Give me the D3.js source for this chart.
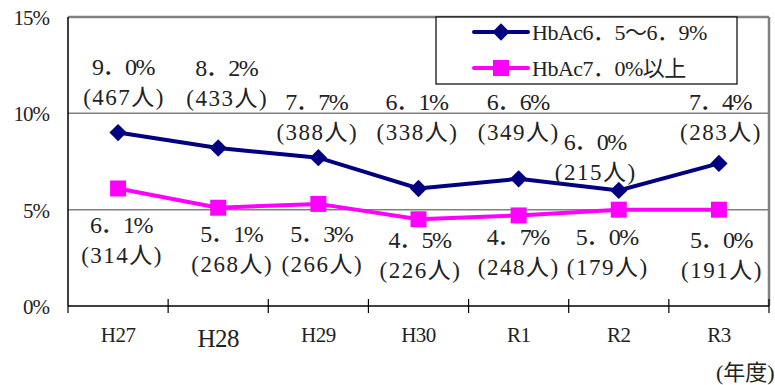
<!DOCTYPE html>
<html>
<head>
<meta charset="utf-8">
<script src="https://cdn.jsdelivr.net/npm/d3@7"></script>
<style>
  body { margin: 0; background: #fff; }
</style>
</head>
<body>
<svg id="chart" width="775" height="385"></svg>
<script>
// data
const years = ["H27", "H28", "H29", "H30", "R1", "R2", "R3"];
const rateMid = [9.0, 8.2, 7.7, 6.1, 6.6, 6.0, 7.4];      // HbAc6.5～6.9%
const countMid = [467, 433, 388, 338, 349, 215, 283];
const rateHigh = [6.1, 5.1, 5.3, 4.5, 4.7, 5.0, 5.0];     // HbAc7.0%以上
const countHigh = [314, 268, 266, 226, 248, 179, 191];
const yTicks = [0, 5, 10, 15];

// where the data labels sit (in % units) and their sideways nudge, hand placed like the original
const midLabelAt = [12.4, 12.35, 10.6, 10.6, 10.6, 8.5, 10.6];
const highLabelAt = [4.2, 3.75, 3.75, 3.45, 3.6, 3.6, 3.4];
const midDx = [5, 8, -2, -2, -1, -24, 1];
const highDx = [3, 13, 3, 1, -1, -12, 2];

const FONT = "'Liberation Serif', 'DejaVu Serif', 'Noto Sans CJK JP', serif";

const svg = d3.select("#chart")
  .attr("font-family", FONT)
  .style("font-family", FONT);
const margin = { top: 17, right: 6, bottom: 79, left: 68 };
const width = 775 - margin.left - margin.right;
const height = 385 - margin.top - margin.bottom;

const x = d3.scaleBand().domain(years).range([0, width]);
const y = d3.scaleLinear().domain([0, 15]).range([height, 0]);

const g = svg.append("g").attr("transform", `translate(${margin.left},${margin.top})`);

// gridlines + frame
g.selectAll(".grid")
  .data(yTicks.filter(d => d > 0))
  .enter().append("line")
  .attr("x1", 0).attr("x2", width)
  .attr("y1", d => y(d)).attr("y2", d => y(d))
  .attr("stroke", "#808080")
  .attr("stroke-width", d => d === 15 ? 2.5 : 1.5);
g.append("line")
  .attr("x1", width).attr("x2", width).attr("y1", 0).attr("y2", height)
  .attr("stroke", "#808080").attr("stroke-width", 2.5);

// y axis
g.append("line")
  .attr("x1", 0).attr("x2", 0).attr("y1", 0).attr("y2", height)
  .attr("stroke", "#000").attr("stroke-width", 1.5);
g.selectAll(".ylab")
  .data(yTicks)
  .enter().append("text")
  .attr("x", -19)
  .attr("y", d => y(d) + 8)
  .attr("text-anchor", "end")
  .attr("font-size", 21)
  .attr("letter-spacing", -1)
  .attr("fill", "#222")
  .text(d => d + "%");

// x axis
g.append("line")
  .attr("x1", 0).attr("x2", width).attr("y1", height).attr("y2", height)
  .attr("stroke", "#000").attr("stroke-width", 1.5);
g.selectAll(".xtick")
  .data(years.slice(1).concat(["end"]))
  .enter().append("line")
  .attr("x1", (d, i) => x.step() * (i + 1))
  .attr("x2", (d, i) => x.step() * (i + 1))
  .attr("y1", height - 7).attr("y2", height + 7)
  .attr("stroke", "#000").attr("stroke-width", 1.2);
g.append("line")
  .attr("x1", 0).attr("x2", 0).attr("y1", height).attr("y2", height + 7)
  .attr("stroke", "#000").attr("stroke-width", 1.2);
g.selectAll(".xlab")
  .data(years)
  .enter().append("text")
  .attr("x", d => x(d) + x.bandwidth() / 2)
  .attr("y", d => d === "H28" ? height + 41 : height + 36)
  .attr("text-anchor", "middle")
  .attr("font-size", d => d === "H28" ? 25 : 21)
  .attr("letter-spacing", -0.5)
  .attr("fill", "#222")
  .text(d => d);
svg.append("text")
  .attr("x", 716).attr("y", 380)
  .attr("font-size", 22)
  .attr("fill", "#222")
  .text("(年度)");

// lines
const cx = i => x(years[i]) + x.bandwidth() / 2;
const line = d3.line().x((d, i) => cx(i)).y(d => y(d));

g.append("path").datum(rateHigh)
  .attr("d", line).attr("fill", "none")
  .attr("stroke", "#ff00ff").attr("stroke-width", 4);
g.selectAll(".sq").data(rateHigh).enter().append("path")
  .attr("d", d3.symbol(d3.symbolSquare, 256))
  .attr("transform", (d, i) => `translate(${cx(i)},${y(d)})`)
  .attr("fill", "#ff00ff");

g.append("path").datum(rateMid)
  .attr("d", line).attr("fill", "none")
  .attr("stroke", "#000080").attr("stroke-width", 4);
g.selectAll(".dia").data(rateMid).enter().append("path")
  .attr("d", d3.symbol(d3.symbolSquare, 150))
  .attr("transform", (d, i) => `translate(${cx(i)},${y(d)}) rotate(45)`)
  .attr("fill", "#000080");

// data labels
const fmt = v => d3.format(".1f")(v).replace(".", "．") + "%";
function labels(rates, counts, levels, dx) {
  const lg = g.append("g").attr("fill", "#222");
  lg.selectAll(".pct").data(rates).enter().append("text")
    .attr("x", (d, i) => cx(i) + dx[i])
    .attr("y", (d, i) => y(levels[i]) + 8)
    .attr("text-anchor", "middle")
    .attr("font-size", 24)
    .attr("letter-spacing", -1.5)
    .text(fmt);
  lg.selectAll(".cnt").data(counts).enter().append("text")
    .attr("x", (d, i) => cx(i) + dx[i] + 1)
    .attr("y", (d, i) => y(levels[i]) + 38)
    .attr("text-anchor", "middle")
    .attr("font-size", 23)
    .attr("letter-spacing", 1.5)
    .text(d => "(" + d + "人)");
}
labels(rateMid, countMid, midLabelAt, midDx);
labels(rateHigh, countHigh, highLabelAt, highDx);

// legend
const leg = svg.append("g").attr("transform", "translate(436,17)");
leg.append("rect").attr("width", 301).attr("height", 67)
  .attr("fill", "#fff").attr("stroke", "#000").attr("stroke-width", 1.2);
const legItems = [
  { name: "HbAc6．5～6．9%", color: "#000080", shape: "diamond" },
  { name: "HbAc7．0%以上", color: "#ff00ff", shape: "square" }
];
legItems.forEach((d, i) => {
  const ly = 15 + i * 36;
  leg.append("line").attr("x1", 38).attr("x2", 92).attr("y1", ly).attr("y2", ly)
    .attr("stroke", d.color).attr("stroke-width", 4).attr("stroke-linecap", "round");
  leg.append("path")
    .attr("d", d3.symbol(d3.symbolSquare, d.shape === "square" ? 256 : 150))
    .attr("transform", `translate(65,${ly})` + (d.shape === "diamond" ? " rotate(45)" : ""))
    .attr("fill", d.color);
  leg.append("text").attr("x", 96).attr("y", ly + 8)
    .attr("font-size", 22).attr("letter-spacing", -0.5).attr("fill", "#222").text(d.name);
});
</script>
</body>
</html>
